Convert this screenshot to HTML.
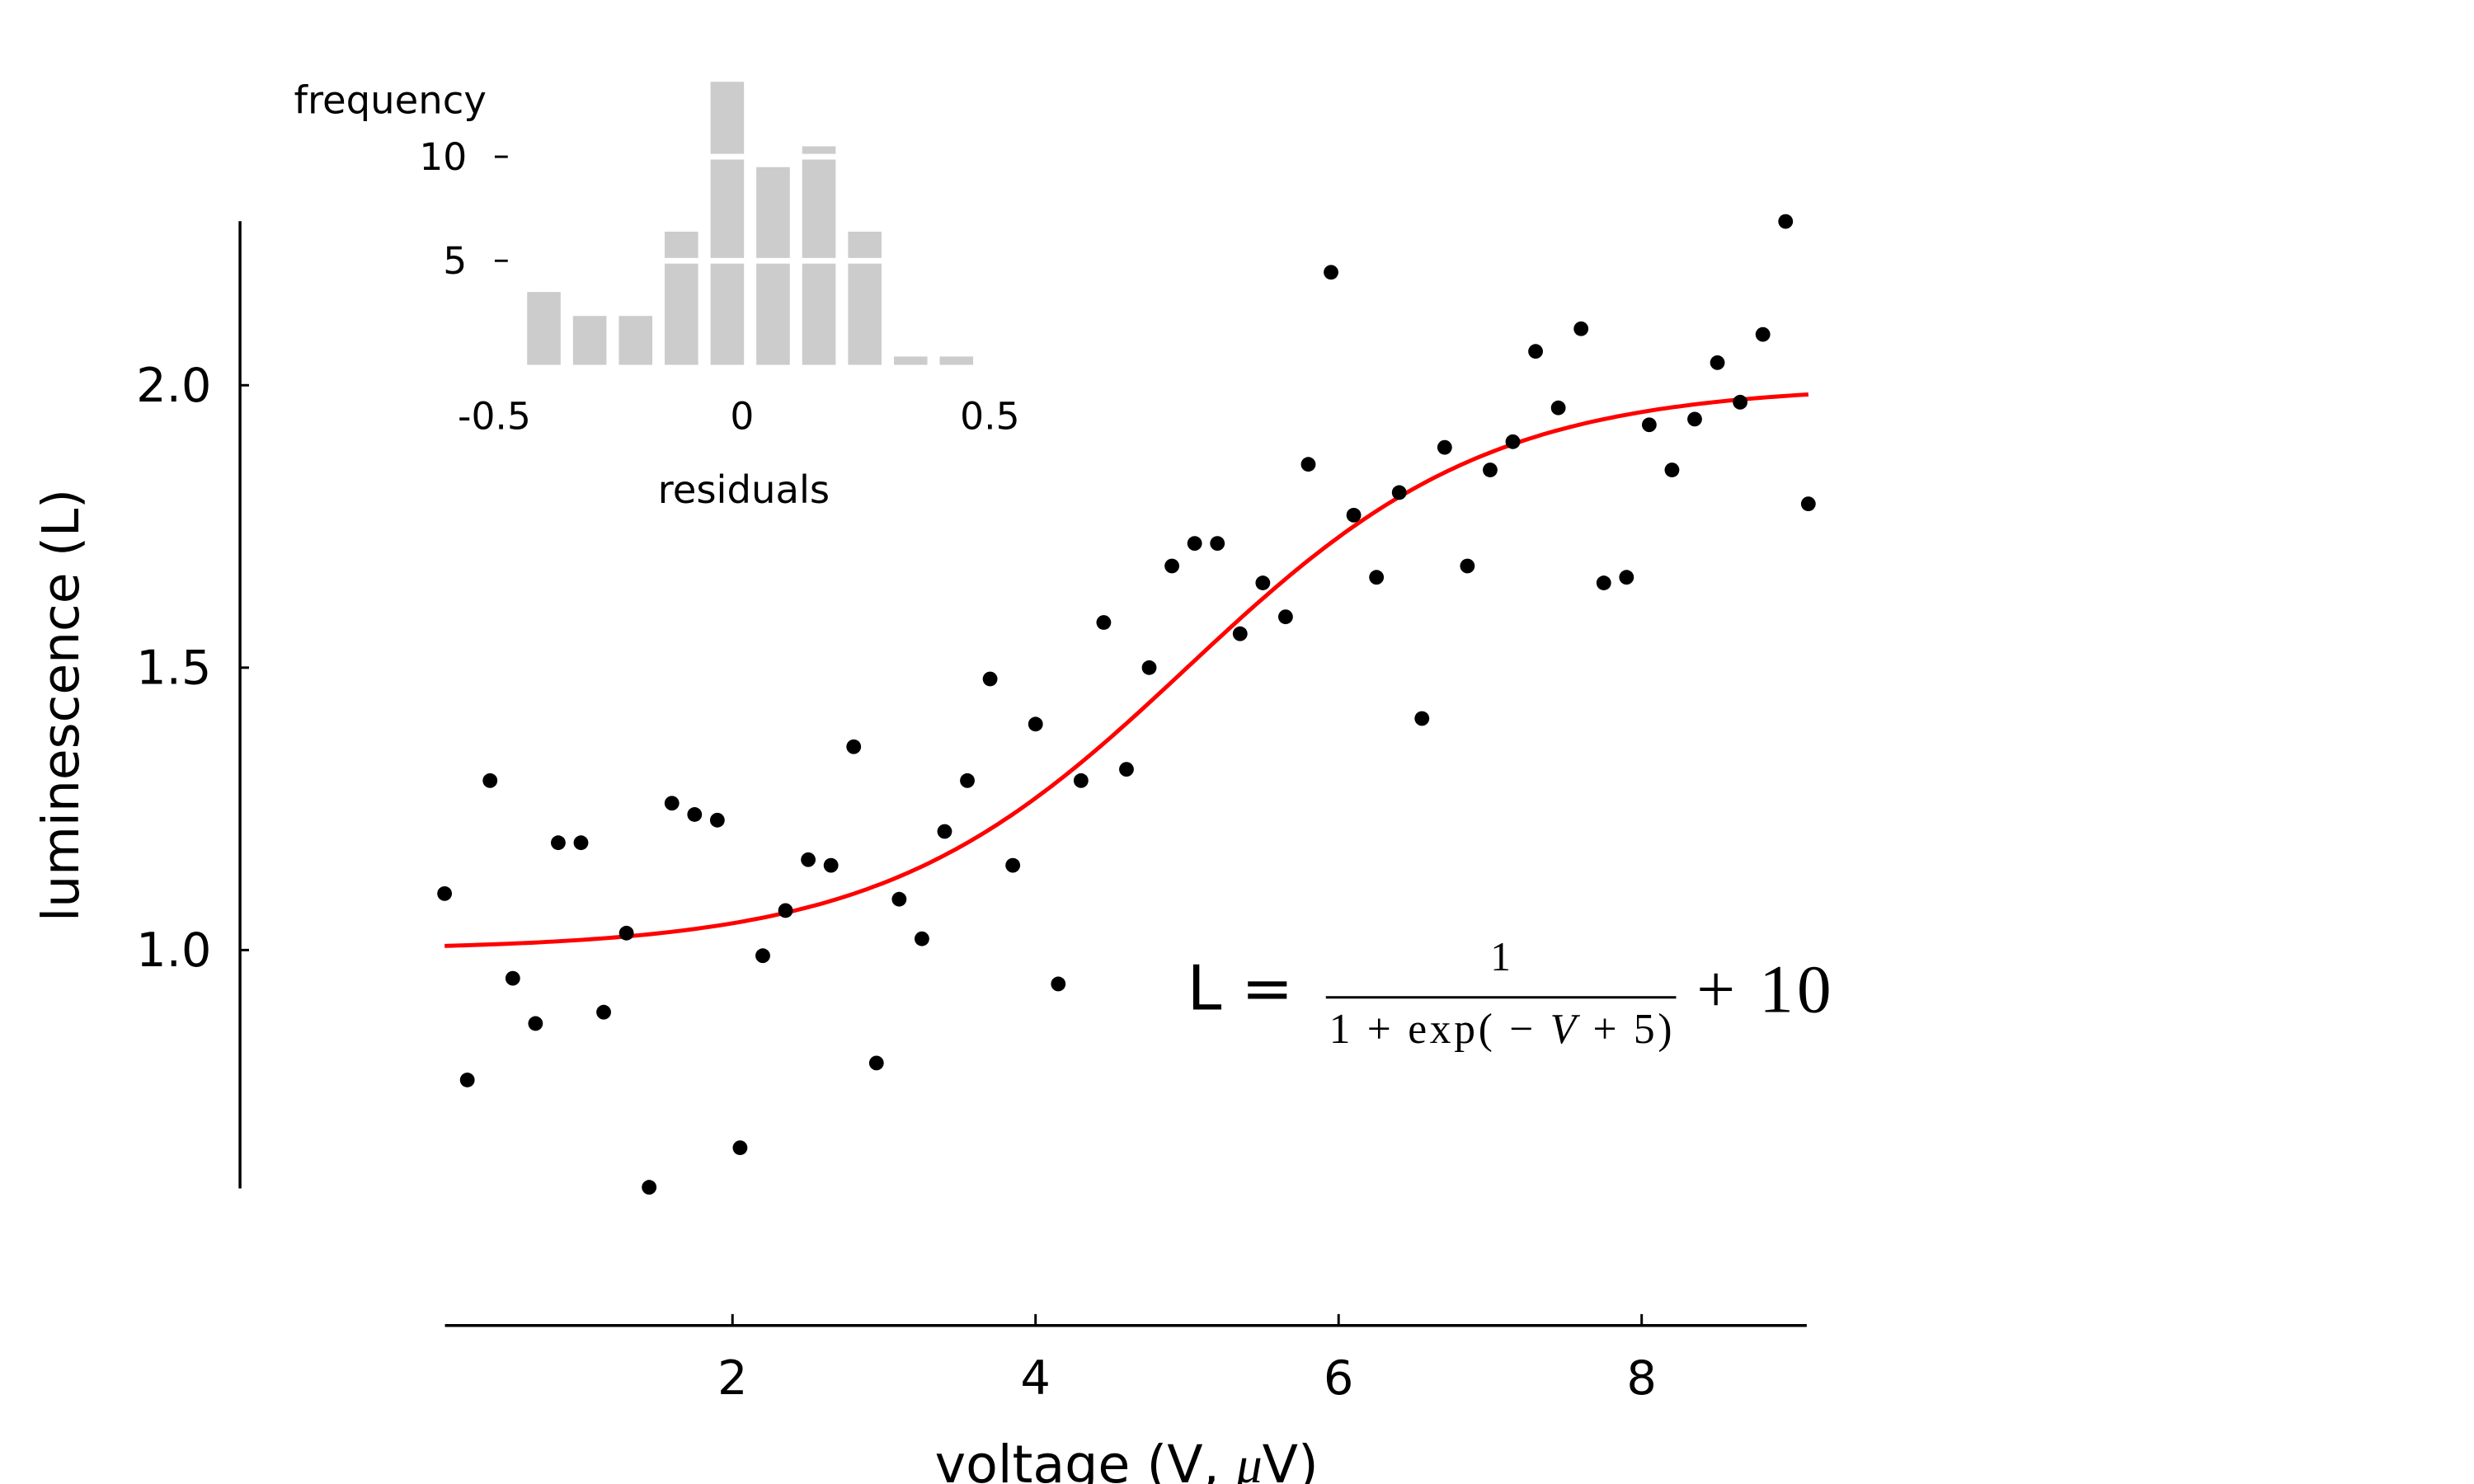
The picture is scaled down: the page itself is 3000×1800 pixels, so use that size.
<!DOCTYPE html>
<html><head><meta charset="utf-8"><style>
html,body{margin:0;padding:0;background:#fff;}
svg{display:block;font-family:"DejaVu Sans","Liberation Sans",sans-serif;}
</style></head><body>
<svg id="chart" width="3000" height="1800" viewBox="0 0 3000 1800" xmlns="http://www.w3.org/2000/svg">
<g transform="scale(0.99)">
<g id="main"></g>
<g id="inset"></g>
<g>
<text x="1454" y="1237" font-size="76">L =</text>
<text x="1838" y="1189" font-size="50" text-anchor="middle" font-family="Liberation Serif,serif">1</text>
<line x1="1624" x2="2053" y1="1222" y2="1222" stroke="#000" stroke-width="3"/>
<text x="1838" y="1278" font-size="52" text-anchor="middle" font-family="Liberation Serif,serif" textLength="420" lengthAdjust="spacing">1 + exp( − <tspan font-style="italic">V</tspan> + 5)</text>
<text x="2078" y="1240" font-size="84" font-family="Liberation Serif,serif" textLength="165" lengthAdjust="spacing">+ 10</text>
</g>
</g>
</svg>
<script>
const voltage=[0.10,0.25,0.40,0.55,0.70,0.85,1.00,1.15,1.30,1.45,1.60,1.75,1.90,2.05,2.20,2.35,2.50,2.65,2.80,2.95,3.10,3.25,3.40,3.55,3.70,3.85,4.00,4.15,4.30,4.45,4.60,4.75,4.90,5.05,5.20,5.35,5.50,5.65,5.80,5.95,6.10,6.25,6.40,6.55,6.70,6.85,7.00,7.15,7.30,7.45,7.60,7.75,7.90,8.05,8.20,8.35,8.50,8.65,8.80,8.95,9.10];
const luminescence=[1.10,0.77,1.30,0.95,0.87,1.19,1.19,0.89,1.03,0.58,1.26,1.24,1.23,0.65,0.99,1.07,1.16,1.15,1.36,0.80,1.09,1.02,1.21,1.30,1.48,1.15,1.40,0.94,1.30,1.58,1.32,1.50,1.68,1.72,1.72,1.56,1.65,1.59,1.86,2.20,1.77,1.66,1.81,1.41,1.89,1.68,1.85,1.90,2.06,1.96,2.10,1.65,1.66,1.93,1.85,1.94,2.04,1.97,2.09,2.29,1.79];
const xTicks=[2,4,6,8];
const yTicks=[1.0,1.5,2.0];
const yTickLabels=["1.0","1.5","2.0"];
const binCenters=[-0.40,-0.3075,-0.215,-0.1225,-0.03,0.0625,0.155,0.2475,0.34,0.4325];
const binCounts=[3.5,2.35,2.35,6.4,13.6,9.5,10.5,6.4,0.4,0.4];
const histXTicks=[-0.5,0,0.5];
const histXTickLabels=["-0.5","0","0.5"];
const histYTicks=[5,10];

const NS="http://www.w3.org/2000/svg";
function mk(tag,attrs,parent,txt){const e=document.createElementNS(NS,tag);for(const k in attrs)e.setAttribute(k,attrs[k]);if(txt!==undefined)e.textContent=txt;parent.appendChild(e);return e;}
const xs=v=>526+v*185.6;
const ys=L=>1164-(L-1)*692;
const main=document.getElementById('main');

let e=mk('line',{x1:294,x2:294,y1:271,y2:1456,stroke:'#000','stroke-width':3.5},main);


e=mk('line',{x1:545,x2:2213,y1:1624,y2:1624,stroke:'#000','stroke-width':3.5},main);


yTicks.forEach((t,i)=>{
  e=mk('line',{x1:294,x2:305,y1:ys(t),y2:ys(t),stroke:'#000','stroke-width':3},main);
  
  
  e=mk('text',{x:259,y:ys(t)+20,'font-size':58,'text-anchor':'end'},main,yTickLabels[i]);
  
  
});
xTicks.forEach(t=>{
  e=mk('line',{x1:xs(t),x2:xs(t),y1:1624,y2:1610,stroke:'#000','stroke-width':3},main);
  
  
  e=mk('text',{x:xs(t),y:1708,'font-size':58,'text-anchor':'middle'},main,String(t));
  
  
});
e=mk('text',{x:1380,y:1816,'font-size':64,'text-anchor':'middle'},main);


e.innerHTML='voltage (V, <tspan font-family="Liberation Serif,serif" font-style="italic">μ</tspan>V)';
e=mk('text',{x:0,y:0,'font-size':62,'text-anchor':'middle',transform:'translate(96,864) rotate(-90)'},main,'luminescence (L)');



let d='';
for(let i=0;i<=200;i++){const v=0.1+9.0*i/200;const L=1/(1+Math.exp(-v+5))+1;d+=(i?'L':'M')+xs(v).toFixed(1)+' '+ys(L).toFixed(1);}
e=mk('path',{d:d,fill:'none',stroke:'#ff0000','stroke-width':5},main);


voltage.forEach((v,i)=>{
  e=mk('circle',{cx:xs(v),cy:ys(luminescence[i]),r:9,fill:'#000'},main);
  
  
});

const inset=document.getElementById('inset');
const hx=r=>909+r*607;
const hy=c=>447-c*25.5;
binCenters.forEach((c,i)=>{
  e=mk('rect',{x:hx(c)-20.5,y:hy(binCounts[i]),width:41,height:binCounts[i]*25.5,fill:'#cccccc'},inset);
  
  
});
histYTicks.forEach(t=>{
  e=mk('line',{x1:640,x2:1200,y1:hy(t),y2:hy(t),stroke:'#fff','stroke-width':7},inset);
  
  
  e=mk('line',{x1:606,x2:622,y1:hy(t),y2:hy(t),stroke:'#000','stroke-width':3},inset);
  
  
  e=mk('text',{x:572,y:hy(t)+16,'font-size':46,'text-anchor':'end'},inset,String(t));
  
  
});
histXTicks.forEach((t,i)=>{
  e=mk('text',{x:hx(t),y:526,'font-size':46,'text-anchor':'middle'},inset,histXTickLabels[i]);
  
  
});
e=mk('text',{x:478,y:139,'font-size':47,'text-anchor':'middle'},inset,'frequency');


e=mk('text',{x:911,y:616,'font-size':47,'text-anchor':'middle'},inset,'residuals');


</script>
</body></html>
